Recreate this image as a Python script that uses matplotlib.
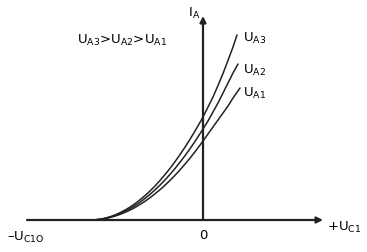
import matplotlib
matplotlib.use("Agg")
import matplotlib.pyplot as plt

# ================= data =================
# offset from the cut-off voltage and anode current, one pair per anode voltage
dx_ua3 = [0, 5, 10, 15, 20, 25, 30, 35, 40, 45, 50, 55, 60, 65, 70, 75, 80, 85, 90, 95,
          100, 105, 110, 113, 118, 123, 128, 133, 138, 143, 147]
ia_ua3 = [0, 0.2, 0.8, 1.8, 3.2, 5, 7.3, 9.9, 12.9, 16.3, 20.2, 24.4, 29, 34, 39.5, 45.4,
          51.6, 58.3, 65.4, 72.8, 80.7, 89, 97.6, 103, 113, 123, 134.5, 146.5, 159.5, 173, 185]

dx_ua2 = [0, 5, 10, 15, 20, 25, 30, 35, 40, 45, 50, 55, 60, 65, 70, 75, 80, 85, 90, 95,
          100, 105, 110, 113, 118, 123, 128, 133, 138, 143, 148]
ia_ua2 = [0, 0.2, 0.7, 1.6, 2.9, 4.5, 6.4, 8.7, 11.4, 14.4, 17.8, 21.6, 25.7, 30.1, 34.9,
          40.1, 45.6, 51.5, 57.8, 64.3, 71.3, 78.6, 86.3, 91, 99, 108, 117, 127, 137, 147, 156]

dx_ua1 = [0, 5, 10, 15, 20, 25, 30, 35, 40, 45, 50, 55, 60, 65, 70, 75, 80, 85, 90, 95,
          100, 105, 110, 113, 118, 123, 128, 133, 138, 143, 150]
ia_ua1 = [0, 0.15, 0.6, 1.4, 2.5, 3.9, 5.6, 7.6, 9.9, 12.5, 15.5, 18.7, 22.3, 26.2, 30.3,
          34.8, 39.6, 44.7, 50.1, 55.9, 61.9, 68.2, 74.9, 79, 86, 93, 100, 107, 114, 122, 132]

curve_labels = ['U$_{A3}$', 'U$_{A2}$', 'U$_{A1}$']
U_CUT = -113  # where the curves leave the axis

plt.rcParams['mathtext.default'] = 'regular'
plt.rcParams['font.family'] = ['DejaVu Sans']

fig = plt.figure(figsize=(3.67, 2.53), dpi=100)
ax = fig.add_axes([0, 0, 1, 1])
ax.set_xlim(-203, 164)
ax.set_ylim(-32, 221)
ax.axis('off')

# axes with arrows
ax.annotate('', xy=(120, 0), xytext=(-176, 0),
            arrowprops=dict(arrowstyle='-|>', lw=1.6, color='#222222', mutation_scale=9,
                            shrinkA=0, shrinkB=0))
ax.annotate('', xy=(0, 204), xytext=(0, 0),
            arrowprops=dict(arrowstyle='-|>', lw=1.6, color='#222222', mutation_scale=9,
                            shrinkA=0, shrinkB=0))

for dx, ia in [(dx_ua3, ia_ua3), (dx_ua2, ia_ua2), (dx_ua1, ia_ua1)]:
    ax.plot([U_CUT + d for d in dx], ia, color='#222222', lw=1.1,
            solid_capstyle='round', solid_joinstyle='round')

fs = 9.5
label_h = [183, 151, 128]
for lab, h in zip(curve_labels, label_h):
    ax.text(40, h, lab, fontsize=fs, ha='left', va='center')

ax.text(-126, 181, 'U$_{A3}$>U$_{A2}$>U$_{A1}$', fontsize=fs, ha='left', va='center')
ax.text(-15, 208, 'I$_{A}$', fontsize=fs, ha='left', va='center')
ax.text(-196, -16, '–U$_{C1O}$', fontsize=fs, ha='left', va='center')
ax.text(0, -15, '0', fontsize=fs, ha='center', va='center')
ax.text(124, -6, '+U$_{C1}$', fontsize=fs, ha='left', va='center')

fig.savefig('out.png', dpi=100)
